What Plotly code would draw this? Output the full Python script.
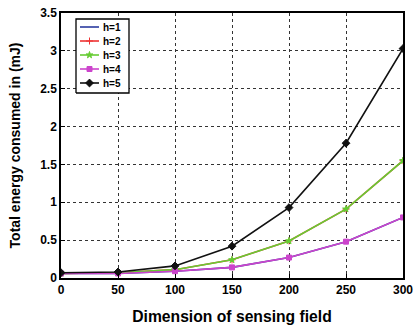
import plotly.graph_objects as go

x = [0, 50, 100, 150, 200, 250, 300]
h1 = [0.06, 0.06, 0.09, 0.14, 0.27, 0.48, 0.80]
h2 = [0.06, 0.07, 0.11, 0.24, 0.49, 0.91, 1.55]
h3 = [0.06, 0.07, 0.11, 0.24, 0.49, 0.91, 1.55]
h4 = [0.06, 0.06, 0.09, 0.14, 0.27, 0.48, 0.80]
h5 = [0.07, 0.08, 0.16, 0.42, 0.93, 1.78, 3.03]
names = ["h=1", "h=2", "h=3", "h=4", "h=5"]

colors = ["#2a3a9f", "#ee3333", "#66cc33", "#cc44cc", "#111111"]
symbols = ["circle", "cross-thin", "star", "square", "diamond"]
msizes = [0, 5, 5, 5, 6]
values = [h1, h2, h3, h4, h5]

FONT = "Liberation Sans"
W, H = 414, 327
ML, MR, MT, MB = 61, 11, 13, 49
PW, PH = W - ML - MR, H - MT - MB

fig = go.Figure()
for name, ys, col, sym, ms in zip(names, values, colors, symbols, msizes):
    fig.add_trace(go.Scatter(
        x=x, y=ys, name=name, mode="lines+markers" if ms else "lines",
        line=dict(color=col, width=1.6),
        marker=dict(symbol=sym, size=ms, color=col, line=dict(color=col, width=1)),
        showlegend=False,
    ))

# custom compact legend drawn on an overlay pixel-scaled axis pair
lx0, lx1, ly0, ly1 = 15, 68, 185, 259
fig.add_trace(go.Scatter(
    x=[lx0, lx1, lx1, lx0, lx0], y=[ly0, ly0, ly1, ly1, ly0],
    xaxis="x2", yaxis="y2", mode="lines", fill="toself", fillcolor="white",
    line=dict(color="black", width=1.3), hoverinfo="skip", showlegend=False))
for i, (name, col, sym, ms) in enumerate(zip(names, colors, symbols, msizes)):
    ry = 251 - 14 * i
    fig.add_trace(go.Scatter(
        x=[19, 38], y=[ry, ry], xaxis="x2", yaxis="y2", mode="lines",
        line=dict(color=col, width=1.6), hoverinfo="skip", showlegend=False))
    if ms:
        fig.add_trace(go.Scatter(
            x=[28.5], y=[ry], xaxis="x2", yaxis="y2", mode="markers",
            marker=dict(symbol=sym, size=ms, color=col, line=dict(color=col, width=1)),
            hoverinfo="skip", showlegend=False))
    fig.add_annotation(x=40, y=ry, xref="x2", yref="y2", text="<b>" + name + "</b>",
                       showarrow=False, xanchor="left", yanchor="middle",
                       font=dict(family=FONT, size=10, color="black"))

axis_common = dict(
    showline=True, linecolor="black", linewidth=1.5, mirror=True,
    ticks="inside", ticklen=4, tickcolor="black",
    showgrid=True, gridcolor="#333333", griddash="dot", gridwidth=1,
    zeroline=False, automargin=False, ticklabeloverflow="allow",
    tickfont=dict(family=FONT, size=12, color="black", weight="bold"),
)
fig.update_layout(
    xaxis=dict(range=[0, 300], dtick=50, **axis_common,
               title=dict(text="<b>Dimension of sensing field</b>",
                          font=dict(family=FONT, size=15.7, color="black"),
                          standoff=15)),
    yaxis=dict(range=[0, 3.5], dtick=0.5, **axis_common,
               title=dict(text="<b>Total energy consumed in (mJ)</b>",
                          font=dict(family=FONT, size=14, color="black"),
                          standoff=16)),
    xaxis2=dict(overlaying="x", range=[0, PW], visible=False, fixedrange=True),
    yaxis2=dict(overlaying="y", range=[0, PH], visible=False, fixedrange=True),
    width=W, height=H,
    margin=dict(l=ML, r=MR, t=MT, b=MB),
    plot_bgcolor="white", paper_bgcolor="white",
    showlegend=False,
)
fig.write_html("out.html")
